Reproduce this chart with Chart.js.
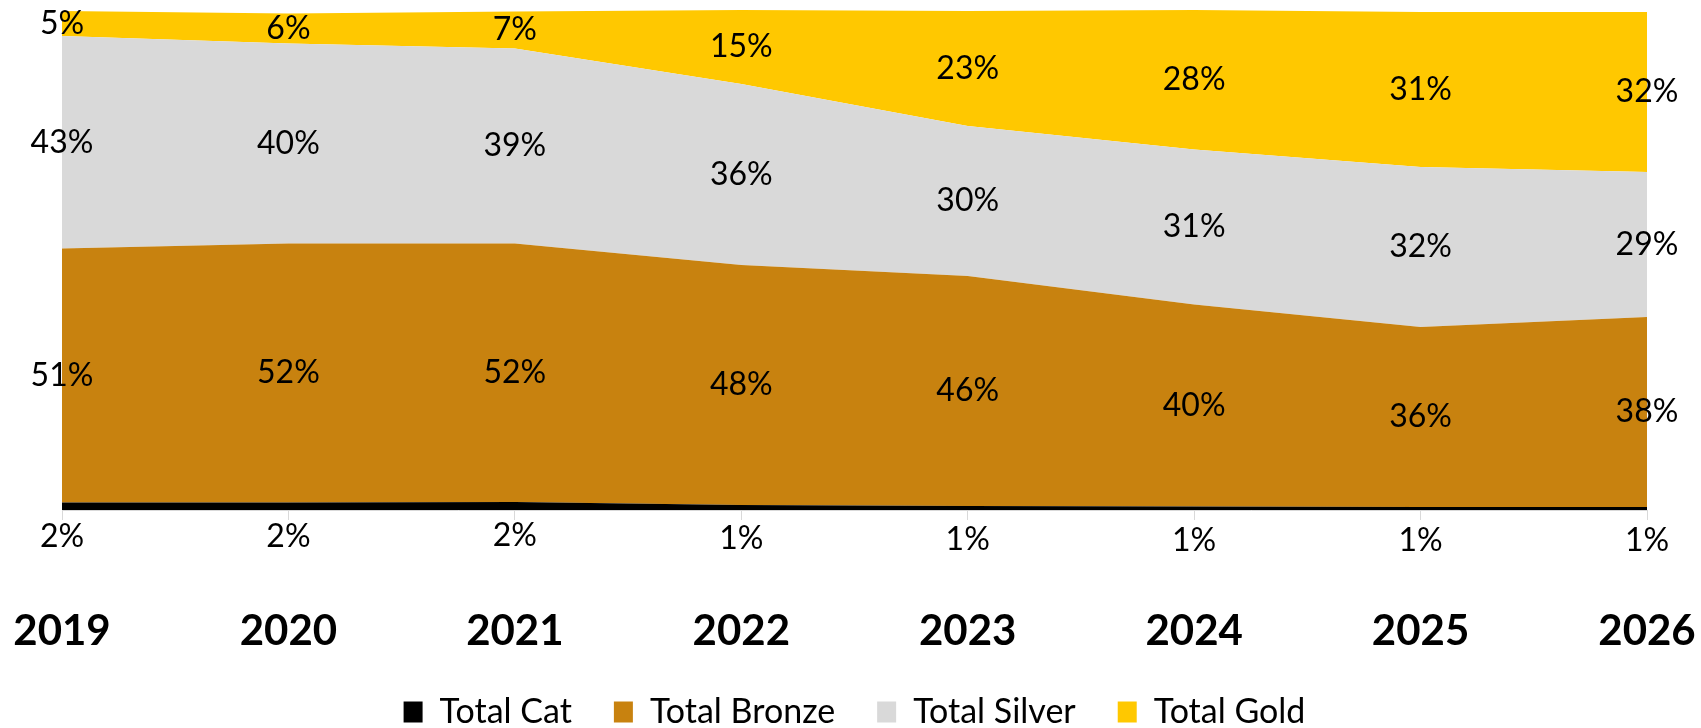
<!DOCTYPE html>
<html>
<head>
<meta charset="utf-8">
<script src="https://cdn.jsdelivr.net/npm/chart.js@4/dist/chart.umd.min.js"></script>
<style>
  html, body { margin: 0; padding: 0; background: #fff; }
  #wrap { width: 1701px; height: 728px; position: relative; }
</style>
</head>
<body>
<div id="wrap"><canvas id="chart"></canvas></div>
<script>
// Shares per year (fractions of total).
const years = ['2019', '2020', '2021', '2022', '2023', '2024', '2025', '2026'];
const totalCat = [0.015, 0.015, 0.016, 0.010, 0.008, 0.007, 0.006, 0.006];
const totalBronze = [0.508, 0.518, 0.517, 0.480, 0.460, 0.404, 0.360, 0.380];
const totalSilver = [0.425, 0.400, 0.390, 0.362, 0.300, 0.310, 0.320, 0.290];
const totalGold = [0.050, 0.060, 0.074, 0.148, 0.230, 0.279, 0.310, 0.320];

const FONT = 'Lato, "Open Sans", sans-serif';

// Percent labels: in the middle of each band, Cat ones under the axis.
const bandLabels = {
    id: 'bandLabels',
    afterDatasetsDraw(chart) {
        const { ctx } = chart;
        const y = chart.scales.y;
        ctx.save();
        ctx.font = '32px ' + FONT;
        ctx.fillStyle = '#000';
        ctx.textAlign = 'center';
        ctx.textBaseline = 'middle';
        chart.data.datasets.forEach((ds, di) => {
            const meta = chart.getDatasetMeta(di);
            meta.data.forEach((pt, i) => {
                let base = 0;
                for (let k = 0; k < di; k++) base += chart.data.datasets[k].data[i];
                const top = base + ds.data[i];
                const text = Math.round(ds.data[i] * 100) + '%';
                let py;
                if (di === 0) {
                    py = y.getPixelForValue(top) + 34;
                } else {
                    py = (y.getPixelForValue(base) + y.getPixelForValue(top)) / 2;
                }
                ctx.fillText(text, pt.x, py);
            });
        });
        ctx.restore();
    },
};

function area(label, data, color, fill) {
    return {
        label,
        data,
        backgroundColor: color,
        borderColor: color,
        borderWidth: 0,
        pointRadius: 0,
        pointHoverRadius: 0,
        tension: 0,
        fill,
    };
}

const chart = new Chart(document.getElementById('chart'), {
    type: 'line',
    data: {
        labels: years,
        datasets: [
            area('Total Cat', totalCat, '#000000', 'origin'),
            area('Total Bronze', totalBronze, '#C8820F', '-1'),
            area('Total Silver', totalSilver, '#D9D9D9', '-1'),
            area('Total Gold', totalGold, '#FFC800', '-1'),
        ],
    },
    options: {
        responsive: true,
        maintainAspectRatio: false,
        animation: false,
        layout: { padding: { left: 62, right: 54, top: 10, bottom: -11 } },
        plugins: {
            tooltip: { enabled: false },
            legend: {
                position: 'bottom',
                labels: {
                    color: '#000',
                    font: { family: FONT, size: 34 },
                    boxWidth: 19,
                    boxHeight: 21,
                    padding: 42,
                },
            },
        },
        scales: {
            x: {
                offset: false,
                border: { display: true, color: '#D9D9D9', width: 1 },
                grid: { display: true, drawOnChartArea: false, tickLength: 10, color: '#D9D9D9' },
                ticks: {
                    color: '#000',
                    font: { family: FONT, size: 42, weight: 'bold' },
                    padding: 86,
                    maxRotation: 0,
                },
                afterFit(scale) {
                    scale.paddingLeft = 0;
                    scale.paddingRight = 0;
                    scale.height = 143;
                },
            },
            y: {
                display: false,
                stacked: true,
                min: 0,
                max: 1,
            },
        },
    },
    plugins: [bandLabels],
});
</script>
</body>
</html>
